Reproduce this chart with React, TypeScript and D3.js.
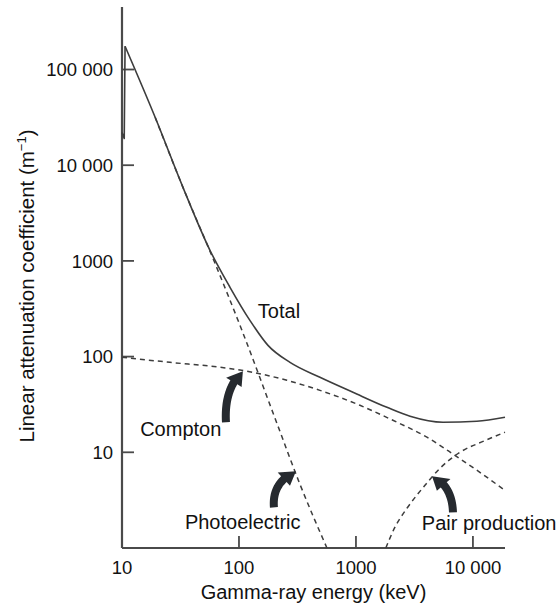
import React from "react";
import * as d3 from "d3";

// Gamma-ray attenuation in lead: total coefficient and its three components
const energyTotal = [10, 10.45, 10.62, 19.2, 33.2, 56.5, 83.8, 124, 177, 273, 492, 942, 1840, 2900, 5550, 10800, 18800];
const coefTotal = [22000, 19000, 175000, 31700, 5870, 1290, 530, 239, 131, 87, 60.8, 42.4, 29.5, 23.8, 20.6, 21.1, 23.2];

const energyPhoto = [19.2, 33.2, 62.4, 106, 211, 332, 565];
const coefPhoto = [31700, 5870, 944, 188, 20.1, 4.64, 1.0];

const energyCompton = [10, 25.7, 68.9, 132, 257, 492, 1080, 2070, 4040, 7010, 10800, 18800];
const coefCompton = [98.4, 87.1, 77.3, 68.5, 56.5, 44.4, 31.0, 21.6, 14.4, 9.3, 6.5, 4.0];

const energyPair = [1800, 2150, 2730, 3890, 5230, 7740, 12200, 18800];
const coefPair = [1.0, 1.64, 2.6, 4.52, 6.81, 10, 13.0, 16.2];

const xTicks = [10, 100, 1000, 10000];
const xTickLabels = ["10", "100", "1000", "10 000"];
const yTicks = [10, 100, 1000, 10000, 100000];
const yTickLabels = ["10", "100", "1000", "10 000", "100 000"];

// Curve labels, anchored at (energy, coefficient)
const labelText = ["Total", "Compton", "Photoelectric", "Pair production"];
const labelAt: [number, number][] = [[145, 251], [14.3, 14.7], [34.5, 1.57], [3660, 1.53]];

// Pointer arrows: tail, bend control and tip, each at (energy, coefficient)
const arrowTail: [number, number][] = [[77.4, 20.6], [199, 2.66], [6750, 2.36]];
const arrowBend: [number, number][] = [[74.5, 46.6], [191, 4.86], [6620, 4.52]];
const arrowTip: [number, number][] = [[108, 70.2], [307, 6.33], [4470, 5.61]];

const W = 558;
const H = 605;
const FONT = "'Liberation Sans', Arial, Helvetica, sans-serif";
const INK = "#111";
const LINE = "#3d3d3d";

const x = d3.scaleLog().domain([10, 18800]).range([122, 505]);
const y = d3.scaleLog().domain([1, 450000]).range([548, 7]);

const zip = (a: number[], b: number[]) => a.map((v, i) => [v, b[i]] as [number, number]);

const lineSmooth = d3
  .line<[number, number]>()
  .x((d) => x(d[0]))
  .y((d) => y(d[1]))
  .curve(d3.curveMonotoneX);

const lineStraight = d3
  .line<[number, number]>()
  .x((d) => x(d[0]))
  .y((d) => y(d[1]));

type P = [number, number];

function arrowPath(t0: P, c0: P, p0: P, shaftW: number, headW: number, headL: number) {
  const T: P = [x(t0[0]), y(t0[1])];
  const C: P = [x(c0[0]), y(c0[1])];
  const Pt: P = [x(p0[0]), y(p0[1])];
  const q = (t: number): P => [
    (1 - t) * (1 - t) * T[0] + 2 * (1 - t) * t * C[0] + t * t * Pt[0],
    (1 - t) * (1 - t) * T[1] + 2 * (1 - t) * t * C[1] + t * t * Pt[1],
  ];
  const dq = (t: number): P => [
    2 * (1 - t) * (C[0] - T[0]) + 2 * t * (Pt[0] - C[0]),
    2 * (1 - t) * (C[1] - T[1]) + 2 * t * (Pt[1] - C[1]),
  ];
  const N = 60;
  const pts = d3.range(N + 1).map((i) => i / N);
  const len: number[] = [0];
  for (let i = 1; i <= N; i++) {
    const a = q(pts[i - 1]);
    const b = q(pts[i]);
    len.push(len[i - 1] + Math.hypot(b[0] - a[0], b[1] - a[1]));
  }
  const total = len[N];
  const stopLen = total - headL;
  const ts = pts.filter((_, i) => len[i] <= stopLen);
  const normal = (t: number): P => {
    const d = dq(t);
    const m = Math.hypot(d[0], d[1]) || 1;
    return [-d[1] / m, d[0] / m];
  };
  const left: P[] = [];
  const right: P[] = [];
  ts.forEach((t) => {
    const p = q(t);
    const n = normal(t);
    left.push([p[0] + (n[0] * shaftW) / 2, p[1] + (n[1] * shaftW) / 2]);
    right.push([p[0] - (n[0] * shaftW) / 2, p[1] - (n[1] * shaftW) / 2]);
  });
  const tb = ts[ts.length - 1];
  const B = q(tb);
  const nb = normal(tb);
  const headA: P = [B[0] + (nb[0] * headW) / 2, B[1] + (nb[1] * headW) / 2];
  const headB: P = [B[0] - (nb[0] * headW) / 2, B[1] - (nb[1] * headW) / 2];
  const poly = [...left, headA, Pt, headB, ...right.reverse()];
  return "M" + poly.map((p) => `${p[0].toFixed(2)},${p[1].toFixed(2)}`).join("L") + "Z";
}

export default function App() {
  const total = zip(energyTotal, coefTotal);
  const [x0, x1] = x.range();
  const [yb, yt] = y.range();
  return (
    <svg
      width={W}
      height={H}
      viewBox={`0 0 ${W} ${H}`}
      style={{ position: "absolute", left: 0, top: 0, background: "#fff" }}
      fontFamily={FONT}
    >
      {/* axes */}
      <line x1={x0} x2={x0} y1={yt} y2={yb} stroke="#4a4a4a" strokeWidth={2.2} />
      <line x1={x0} x2={x1} y1={yb} y2={yb} stroke="#4a4a4a" strokeWidth={2.2} />
      {yTicks.map((v, i) => (
        <g key={"yt" + v}>
          <line x1={x0} x2={x0 + 12} y1={y(v)} y2={y(v)} stroke="#4a4a4a" strokeWidth={1.8} />
          <text x={113} y={y(v)} dy="0.36em" textAnchor="end" fontSize={18.5} fill={INK}>
            {yTickLabels[i]}
          </text>
        </g>
      ))}
      {xTicks.map((v, i) => (
        <g key={"xt" + v}>
          {i > 0 && <line x1={x(v)} x2={x(v)} y1={yb} y2={yb - 12} stroke="#4a4a4a" strokeWidth={1.8} />}
          <text x={x(v)} y={574} textAnchor="middle" fontSize={18.5} fill={INK}>
            {xTickLabels[i]}
          </text>
        </g>
      ))}
      <text x={(x0 + x1) / 2} y={599} textAnchor="middle" fontSize={20} fill={INK}>
        Gamma-ray energy (keV)
      </text>
      <text transform="rotate(-90)" x={-286} y={34} textAnchor="middle" fontSize={20.5} fill={INK}>
        Linear attenuation coefficient (m
        <tspan fontSize={13} dy={-8}>−1</tspan>
        <tspan dy={8}>)</tspan>
      </text>

      {/* component curves */}
      <g fill="none" stroke={LINE} strokeWidth={1.5} strokeDasharray="5 4">
        <path d={lineSmooth(zip(energyPhoto, coefPhoto)) || ""} />
        <path d={lineSmooth(zip(energyCompton, coefCompton)) || ""} />
        <path d={lineSmooth(zip(energyPair, coefPair)) || ""} />
      </g>

      {/* total attenuation */}
      <g fill="none" stroke={LINE} strokeWidth={1.6} strokeLinejoin="round">
        <path d={lineStraight(total.slice(0, 3)) || ""} />
        <path d={lineSmooth(total.slice(2)) || ""} />
      </g>

      {/* pointer arrows */}
      {arrowTail.map((t, i) => (
        <path key={"ar" + i} d={arrowPath(t, arrowBend[i], arrowTip[i], 8, 18, 14)} fill="#262a2f" />
      ))}

      {labelText.map((s, i) => (
        <text key={s} x={x(labelAt[i][0])} y={y(labelAt[i][1])} fontSize={20} fill={INK}>
          {s}
        </text>
      ))}
    </svg>
  );
}
